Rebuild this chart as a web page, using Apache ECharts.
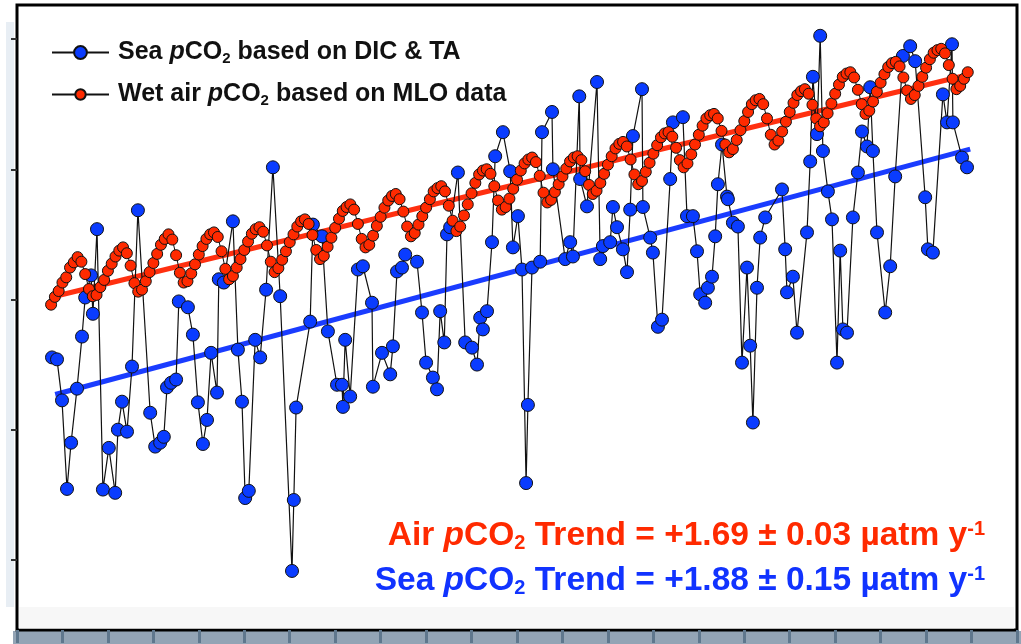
<!DOCTYPE html>
<html>
<head>
<meta charset="utf-8">
<script src="https://cdn.jsdelivr.net/npm/echarts@6/dist/echarts.min.js"></script>
<style>
  html, body { margin: 0; padding: 0; background: #fff; }
  #chart { width: 1021px; height: 644px; }
</style>
</head>
<body>
<div id="chart"></div>
<script>
// year ticks along the bottom, pCO2 ticks on the left (labels are cut off in the source)
const yearTicks = [1988,1989,1990,1991,1992,1993,1994,1995,1996,1997,1998,1999,2000,2001,2002,2003,2004,2005,2006,2007,2008,2009,2010]
const pco2Ticks = [300, 320, 340, 360, 380]

// sea pCO2 from DIC & TA: [decimal year, µatm]
const seaPco2 = [
  [1988.77,331.1],[1988.88,330.8],[1988.99,324.5],[1989.10,310.9],[1989.19,318.0],[1989.32,326.3],
  [1989.43,334.3],[1989.50,340.3],[1989.63,343.7],[1989.67,337.8],[1989.76,350.8],[1989.89,310.8],
  [1990.02,317.2],[1990.16,310.3],[1990.22,320.0],[1990.31,324.3],[1990.42,319.7],[1990.53,329.7],
  [1990.66,353.7],[1990.93,322.6],[1991.04,317.4],[1991.15,318.0],[1991.23,318.9],[1991.30,326.5],
  [1991.39,327.2],[1991.50,327.7],[1991.56,339.7],[1991.76,338.8],[1991.87,334.6],[1991.98,324.2],
  [1992.09,317.8],[1992.18,321.5],[1992.27,331.8],[1992.40,325.7],[1992.44,343.1],[1992.55,342.6],
  [1992.75,352.0],[1992.86,332.3],[1992.95,324.3],[1993.02,309.5],[1993.10,310.6],[1993.24,333.8],
  [1993.35,331.1],[1993.48,341.5],[1993.63,360.3],[1993.79,340.5],[1994.05,298.3],[1994.09,309.2],
  [1994.14,323.4],[1994.45,336.6],[1994.51,351.5],[1994.71,349.7],[1994.84,335.1],[1995.04,326.9],
  [1995.15,326.9],[1995.17,323.5],[1995.22,333.8],[1995.33,325.1],[1995.50,344.6],[1995.61,345.1],
  [1995.81,339.5],[1995.83,326.6],[1996.03,331.8],[1996.21,328.5],[1996.27,332.8],[1996.36,344.3],
  [1996.47,344.9],[1996.54,346.9],[1996.80,345.8],[1996.91,338.0],[1997.00,330.3],[1997.15,328.0],
  [1997.24,326.2],[1997.31,338.2],[1997.40,333.4],[1997.46,350.0],[1997.53,351.1],[1997.70,359.5],
  [1997.86,333.4],[1998.01,332.6],[1998.12,330.0],[1998.19,337.2],[1998.25,335.4],[1998.34,338.2],
  [1998.45,348.8],[1998.52,362.0],[1998.69,365.7],[1998.85,359.7],[1998.91,348.0],[1999.02,352.8],
  [1999.11,344.6],[1999.20,311.8],[1999.24,323.8],[1999.33,344.9],[1999.51,345.8],[1999.55,365.7],
  [1999.77,368.8],[1999.79,360.0],[2000.06,346.2],[2000.17,348.8],[2000.23,346.6],[2000.37,371.2],
  [2000.39,358.5],[2000.54,354.3],[2000.76,373.4],[2000.83,346.2],[2000.89,348.2],[2001.05,348.8],
  [2001.11,354.2],[2001.20,351.1],[2001.33,347.7],[2001.42,344.2],[2001.49,353.8],[2001.55,365.1],
  [2001.75,372.3],[2001.77,354.2],[2001.93,349.5],[2001.99,347.2],[2002.10,335.8],[2002.19,336.9],
  [2002.37,358.5],[2002.43,367.2],[2002.65,368.0],[2002.74,352.8],[2002.87,352.8],[2002.96,347.4],
  [2003.03,340.8],[2003.14,339.5],[2003.20,341.8],[2003.29,343.5],[2003.36,349.7],[2003.42,357.7],
  [2003.51,363.8],[2003.62,355.8],[2003.64,355.4],[2003.75,351.8],[2003.86,351.2],[2003.95,330.3],
  [2004.06,344.9],[2004.13,332.9],[2004.19,321.1],[2004.28,341.8],[2004.35,349.5],[2004.46,352.6],
  [2004.83,356.9],[2004.90,347.7],[2004.94,341.1],[2005.07,343.5],[2005.16,334.9],[2005.38,350.3],
  [2005.45,361.2],[2005.51,374.2],[2005.60,365.4],[2005.67,380.5],[2005.73,362.8],[2005.84,356.6],
  [2005.93,352.3],[2006.04,330.3],[2006.11,347.5],[2006.17,335.4],[2006.26,334.9],[2006.39,352.6],
  [2006.50,359.5],[2006.59,365.8],[2006.70,363.5],[2006.77,372.6],[2006.83,362.8],[2006.92,350.3],
  [2007.10,338.0],[2007.21,345.1],[2007.32,358.9],[2007.49,377.4],[2007.65,378.9],[2007.76,376.6],
  [2007.98,355.7],[2008.04,347.7],[2008.15,347.2],[2008.37,371.5],[2008.46,367.2],[2008.57,379.2],
  [2008.59,367.2],[2008.79,361.8],[2008.90,360.3]
]

// wet air pCO2 from MLO, monthly from Oct 1988
const airStartYear = 1988.75
const airPco2 = [
  339.2, 340.4, 341.3, 342.6, 343.4, 344.9, 345.7,
  346.5, 345.8, 343.9, 341.6, 340.5, 340.7, 341.9, 343.0, 344.4, 345.5, 346.6, 347.5,
  348.0, 347.1, 345.2, 342.5, 341.2, 341.5, 342.8, 344.2, 345.6, 347.0, 348.4, 349.3,
  350.0, 349.2, 346.8, 344.1, 342.6, 342.8, 344.0, 345.4, 346.9, 348.2, 349.3, 350.0,
  350.3, 349.6, 347.4, 344.7, 343.1, 343.6, 344.9, 346.2, 347.6, 348.9, 350.1, 350.8,
  351.1, 350.4, 348.3, 345.8, 344.2, 344.8, 346.1, 347.4, 348.8, 350.0, 351.2, 352.0,
  352.3, 351.6, 349.9, 347.6, 346.2, 346.7, 348.1, 349.5, 351.0, 352.4, 353.6, 354.2,
  354.6, 353.8, 351.6, 349.3, 348.0, 348.4, 349.8, 351.3, 352.7, 354.1, 355.2, 355.9,
  356.2, 355.4, 353.5, 351.2, 349.7, 350.2, 351.5, 352.8, 354.1, 355.4, 356.6, 357.1,
  357.4, 356.6, 354.4, 352.1, 350.5, 351.2, 352.9, 354.6, 356.3, 357.9, 359.2, 359.8,
  360.0, 359.3, 357.4, 355.2, 353.8, 354.2, 355.5, 357.0, 358.4, 359.8, 360.9, 361.5,
  361.8, 361.1, 359.0, 356.4, 354.9, 355.3, 356.5, 357.7, 358.9, 360.1, 361.2, 361.8,
  362.0, 361.4, 359.7, 357.6, 356.2, 356.7, 357.9, 359.3, 360.7, 362.0, 363.2, 363.9,
  364.2, 363.5, 361.5, 359.2, 357.7, 358.2, 359.6, 361.0, 362.4, 363.7, 364.9, 365.5,
  365.7, 365.0, 363.3, 361.4, 360.3, 360.9, 362.3, 363.8, 365.3, 366.7, 367.8, 368.3,
  368.5, 367.8, 365.9, 363.8, 362.6, 363.1, 364.5, 366.0, 367.4, 368.8, 370.0, 370.6,
  370.8, 370.0, 367.8, 365.3, 363.8, 364.4, 365.8, 367.3, 368.8, 370.2, 371.4, 372.0,
  372.3, 371.6, 369.9, 367.8, 366.6, 367.2, 368.6, 370.1, 371.6, 373.0, 374.2, 374.7,
  374.9, 374.1, 372.2, 370.0, 368.5, 369.0, 370.4, 371.9, 373.3, 374.6, 375.7, 376.3,
  376.5, 375.8, 374.1, 372.1, 370.8, 371.4, 372.8, 374.2, 375.6, 376.9, 377.9, 378.3,
  378.5, 377.8, 376.0, 373.9, 372.3, 372.8, 373.9, 374.9
]

// linear trends (end points)
const airTrend = [[1988.84, 340.5], [2008.97, 374.6]]
const seaTrend = [[1988.84, 325.4], [2008.97, 363.1]]

const RED = "#ff2a00"
const BLUE = "#0a3cff"
const FONT = "Liberation Sans"

let airData = airPco2.map((v, i) => [airStartYear + i / 12, v])

let myChart = echarts.init(document.getElementById("chart"))

function legendRich(size) {
  return {
    t: { fontSize: size, fontWeight: "bold", fontFamily: FONT, color: "#111", lineHeight: 28 },
    i: { fontSize: size, fontWeight: "bold", fontStyle: "italic", fontFamily: FONT, color: "#111", lineHeight: 28 },
    s: { fontSize: 15, fontWeight: "bold", fontFamily: FONT, color: "#111", lineHeight: 12, verticalAlign: "bottom" },
  }
}

function trendRich(color) {
  return {
    r: { fontSize: 33.5, fontWeight: "bold", fontFamily: FONT, fill: color, lineHeight: 34 },
    i: { fontSize: 33.5, fontWeight: "bold", fontStyle: "italic", fontFamily: FONT, fill: color, lineHeight: 34 },
    s: { fontSize: 20, fontWeight: "bold", fontFamily: FONT, fill: color, lineHeight: 14, verticalAlign: "bottom" },
    p: { fontSize: 20, fontWeight: "bold", fontFamily: FONT, fill: color, lineHeight: 14, verticalAlign: "top" },
  }
}

myChart.setOption({
  animation: false,
  backgroundColor: "#fff",
  grid: {
    left: 17,
    right: 4,
    top: 5,
    bottom: 14,
    show: true,
    borderColor: "#000",
    borderWidth: 3,
    backgroundColor: "#fff",
  },
  legend: [
    {
      data: ["Sea pCO2 based on DIC & TA"],
      left: 46,
      top: 35,
      itemWidth: 57,
      itemHeight: 16,
      formatter: () => "{t|Sea }{i|p}{t|CO}{s|2}{t| based on DIC & TA}",
      textStyle: { padding: [0, 0, 0, 4], rich: legendRich(25) },
    },
    {
      data: ["Wet air pCO2 based on MLO data"],
      left: 46,
      top: 77,
      itemWidth: 57,
      itemHeight: 13,
      formatter: () => "{t|Wet air }{i|p}{t|CO}{s|2}{t| based on MLO data}",
      textStyle: { padding: [0, 0, 0, 4], rich: legendRich(25) },
    },
  ],
  xAxis: {
    type: "value",
    min: 1988,
    max: 2010,
    axisLine: { show: false },
    axisLabel: { show: false },
    splitLine: { show: false },
    axisTick: {
      show: true,
      customValues: yearTicks,
      length: 13,
      lineStyle: { color: "#5f778d", width: 3 },
    },
  },
  yAxis: {
    type: "value",
    min: 289.23,
    max: 385.23,
    axisLine: { show: false },
    axisLabel: { show: false },
    splitLine: { show: false },
    axisTick: {
      show: true,
      customValues: pco2Ticks,
      length: 6,
      lineStyle: { color: "#333", width: 2 },
    },
  },
  graphic: [
    // pale strip left of the frame and grey-blue band under the x axis
    { type: "rect", z: -1, shape: { x: 6, y: 22, width: 8, height: 585 }, style: { fill: "#e8eef4" } },
    { type: "rect", z: -1, shape: { x: 13, y: 631, width: 1008, height: 13 }, style: { fill: "#93a4b5" } },
    // light band covering the bottom of the plot
    { type: "rect", z: 50, shape: { x: 19, y: 607, width: 995, height: 21.5 }, style: { fill: "#f7f7f7" } },
    {
      type: "text",
      z: 60,
      x: 985,
      y: 536,
      style: {
        text: "{r|Air }{i|p}{r|CO}{s|2}{r| Trend = +1.69 ± 0.03 µatm y}{p|-1}",
        align: "right",
        verticalAlign: "middle",
        rich: trendRich(RED),
      },
    },
    {
      type: "text",
      z: 60,
      x: 985,
      y: 581,
      style: {
        text: "{r|Sea }{i|p}{r|CO}{s|2}{r| Trend = +1.88 ± 0.15 µatm y}{p|-1}",
        align: "right",
        verticalAlign: "middle",
        rich: trendRich("#1133ff"),
      },
    },
  ],
  series: [
    {
      name: "sea trend",
      type: "line",
      data: seaTrend,
      z: 1,
      symbol: "none",
      lineStyle: { color: "#1a3cff", width: 5 },
    },
    {
      name: "air trend",
      type: "line",
      data: airTrend,
      z: 1,
      symbol: "none",
      lineStyle: { color: "#ff3010", width: 5 },
    },
    {
      name: "Sea pCO2 based on DIC & TA",
      type: "line",
      data: seaPco2,
      z: 2,
      symbol: "circle",
      symbolSize: 13,
      lineStyle: { color: "#111", width: 1.2 },
      itemStyle: { color: BLUE, borderColor: "#111", borderWidth: 1 },
    },
    {
      name: "Wet air pCO2 based on MLO data",
      type: "line",
      data: airData,
      z: 3,
      symbol: "circle",
      symbolSize: 11,
      lineStyle: { color: "#111", width: 1 },
      itemStyle: { color: RED, borderColor: "#111", borderWidth: 1 },
    },
  ],
})
</script>
</body>
</html>
